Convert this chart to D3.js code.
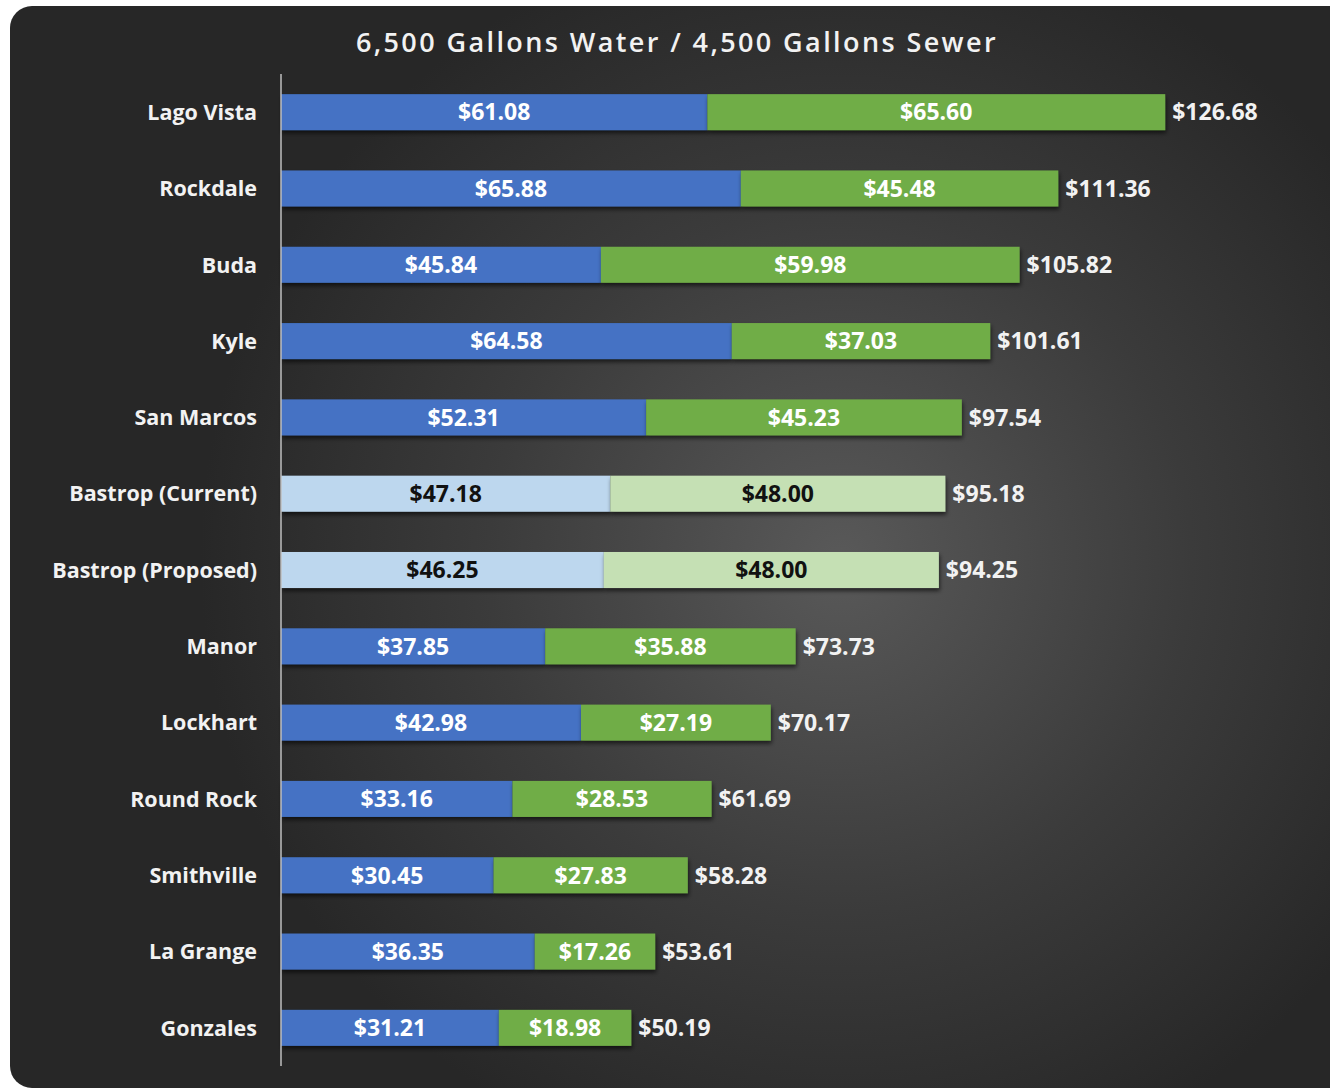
<!DOCTYPE html>
<html>
<head>
<meta charset="utf-8">
<script src="https://cdn.jsdelivr.net/npm/d3@7"></script>
<style>
  body { margin: 0; background: #fff; }
  svg text { font-family: "Open Sans", Lato, sans-serif; }
</style>
</head>
<body>
<svg id="chart"></svg>
<script>
const cities = ["Lago Vista", "Rockdale", "Buda", "Kyle", "San Marcos", "Bastrop (Current)",
  "Bastrop (Proposed)", "Manor", "Lockhart", "Round Rock", "Smithville", "La Grange", "Gonzales"];
const water = [61.08, 65.88, 45.84, 64.58, 52.31, 47.18, 46.25, 37.85, 42.98, 33.16, 30.45, 36.35, 31.21];
const sewer = [65.60, 45.48, 59.98, 37.03, 45.23, 48.00, 48.00, 35.88, 27.19, 28.53, 27.83, 17.26, 18.98];
const totals = [126.68, 111.36, 105.82, 101.61, 97.54, 95.18, 94.25, 73.73, 70.17, 61.69, 58.28, 53.61, 50.19];
const highlighted = ["Bastrop (Current)", "Bastrop (Proposed)"];

const W = 1330, H = 1090;
const svg = d3.select("#chart").attr("width", W).attr("height", H);

const defs = svg.append("defs");
const grad = defs.append("radialGradient")
  .attr("id", "bg").attr("gradientUnits", "userSpaceOnUse")
  .attr("cx", 840).attr("cy", 560).attr("r", 640);
grad.append("stop").attr("offset", "0%").attr("stop-color", "#595959");
grad.append("stop").attr("offset", "55%").attr("stop-color", "#3b3b3b");
grad.append("stop").attr("offset", "100%").attr("stop-color", "#272727");

const shadow = defs.append("filter").attr("id", "shadow")
  .attr("x", "-5%").attr("y", "-30%").attr("width", "110%").attr("height", "170%");
shadow.append("feDropShadow").attr("dx", 1).attr("dy", 3).attr("stdDeviation", 2)
  .attr("flood-color", "#000").attr("flood-opacity", 0.6);

svg.append("rect")
  .attr("x", 10).attr("y", 6).attr("width", W + 20).attr("height", 1082)
  .attr("rx", 22).attr("fill", "url(#bg)");

svg.append("text")
  .attr("x", 677).attr("y", 52)
  .attr("text-anchor", "middle")
  .attr("fill", "#f2f2f2")
  .attr("font-size", 27).attr("font-weight", 600)
  .attr("letter-spacing", 2.4)
  .text("6,500 Gallons Water / 4,500 Gallons Sewer");

const x = d3.scaleLinear().domain([0, 140]).range([281, 281 + 140 * 6.98]);
const y = d3.scaleBand().domain(cities).range([74, 1066]).paddingInner(0.528).paddingOuter(0.264);

const rows = cities.map((c, i) => ({ city: c, water: water[i], sewer: sewer[i], total: totals[i],
  light: highlighted.includes(c) }));

const row = svg.append("g").selectAll("g.row").data(rows).enter()
  .append("g").attr("class", "row");

row.append("rect")
  .attr("x", x(0)).attr("y", d => y(d.city))
  .attr("width", d => x(d.water) - x(0)).attr("height", y.bandwidth())
  .attr("fill", d => d.light ? "#bdd7ee" : "#4472c4")
  .attr("filter", "url(#shadow)");

row.append("rect")
  .attr("x", d => x(d.water)).attr("y", d => y(d.city))
  .attr("width", d => x(d.water + d.sewer) - x(d.water)).attr("height", y.bandwidth())
  .attr("fill", d => d.light ? "#c5e0b4" : "#70ad47")
  .attr("filter", "url(#shadow)");

const money = v => "$" + v.toFixed(2);
const mid = d => y(d.city) + y.bandwidth() / 2;

row.append("text")
  .attr("x", d => (x(0) + x(d.water)) / 2).attr("y", mid)
  .attr("dy", "0.36em").attr("text-anchor", "middle")
  .attr("font-size", 23).attr("font-weight", 700)
  .attr("fill", d => d.light ? "#111" : "#fff")
  .text(d => money(d.water));

row.append("text")
  .attr("x", d => (x(d.water) + x(d.water + d.sewer)) / 2).attr("y", mid)
  .attr("dy", "0.36em").attr("text-anchor", "middle")
  .attr("font-size", 23).attr("font-weight", 700)
  .attr("fill", d => d.light ? "#111" : "#fff")
  .text(d => money(d.sewer));

row.append("text")
  .attr("x", d => x(d.total) + 7).attr("y", mid)
  .attr("dy", "0.36em")
  .attr("font-size", 23).attr("font-weight", 700)
  .attr("fill", "#f2f2f2")
  .text(d => money(d.total));

row.append("text")
  .attr("x", 257).attr("y", mid)
  .attr("dy", "0.36em").attr("text-anchor", "end")
  .attr("font-size", 21.5).attr("font-weight", 700)
  .attr("fill", "#f2f2f2")
  .text(d => d.city);

svg.append("line")
  .attr("x1", x(0)).attr("x2", x(0))
  .attr("y1", 74).attr("y2", 1066)
  .attr("stroke", "#bfbfbf").attr("stroke-width", 1.5);
</script>
</body>
</html>
